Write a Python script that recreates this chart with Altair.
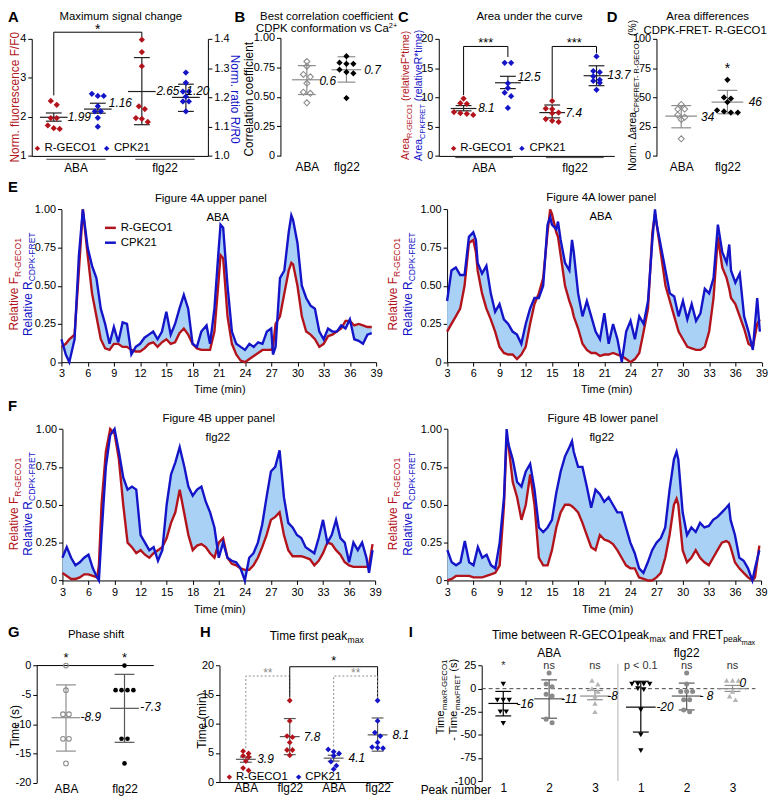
import altair as alt
import pandas as pd

# ======================= values =======================
# A  Maximum signal change (R-GECO1 -> F/F0 left axis, CPK21 -> R/R0 right axis)
A_R_ABA = [2.41, 2.31, 1.97, 1.97, 1.78, 1.71, 1.69]
A_B_ABA = [1.212, 1.205, 1.205, 1.17, 1.152, 1.152, 1.13, 1.10]
A_R_FLG = [3.98, 3.66, 3.30, 2.27, 2.20, 1.97, 1.95, 1.87]
A_B_FLG = [1.285, 1.25, 1.22, 1.22, 1.203, 1.186, 1.186, 1.152]
A_MEAN = [1.99, 1.16, 2.65, 1.20]
A_LO = [1.89, 1.146, 1.80, 1.152]
A_HI = [2.10, 1.18, 3.52, 1.245]
A_LBL = ["1.99", "1.16", "2.65", "1.20"]
A_LBL_X = [1.32, 2.25, 3.33, 4.01]
A_LBL_Y = [1.99, 1.18, 2.65, 1.22]
A_BRACKET = [(1, 2.55), (1, 4.17), (3, 4.17), (3, 4.05)]

# B  Best correlation coefficient
B_ABA = [0.80, 0.76, 0.69, 0.67, 0.615, 0.54, 0.53, 0.45]
B_FLG = [0.845, 0.79, 0.78, 0.78, 0.73, 0.71, 0.70, 0.49]
B_MEAN = [0.645, 0.73]
B_LO = [0.52, 0.625]
B_HI = [0.765, 0.84]
B_LBL = ["0.6", "0.7"]
B_LBL_X = [1.32, 2.45]
B_LBL_Y = [0.635, 0.73]

# C  Area under the curve
C_R_ABA = [9.8, 9.0, 8.9, 7.5, 7.3, 7.2, 7.0]
C_B_ABA = [15.9, 15.9, 12.4, 11.6, 10.8, 10.2, 8.2]
C_R_FLG = [9.4, 8.1, 8.0, 7.4, 7.3, 6.3, 6.0, 5.8]
C_B_FLG = [17.0, 14.5, 14.3, 13.6, 13.0, 12.8, 12.5, 11.3]
C_MEAN = [8.1, 12.5, 7.4, 13.7]
C_LO = [7.7, 11.5, 6.5, 12.0]
C_HI = [8.6, 13.6, 8.7, 15.4]
C_LBL = ["8.1", "12.5", "7.4", "13.7"]
C_LBL_X = [1.33, 2.22, 3.30, 4.25]
C_LBL_Y = [8.1, 13.4, 7.4, 13.8]
C_BRACKETS = [[(1, 10.4), (1, 18.7), (2, 18.7), (2, 16.9)],
              [(3, 9.9), (3, 18.7), (4, 18.7), (4, 17.6)]]

# D  Area differences
D_ABA = [44, 40, 40, 35, 33, 31, 14.6]
D_FLG = [65, 50, 49, 46, 39, 38, 37, 37]
D_MEAN = [34, 46]
D_LO = [24, 36]
D_HI = [43, 56]
D_LBL = ["34", "46"]
D_LBL_X = [1.43, 2.46]
D_LBL_Y = [33, 46]

# E / F  normalised traces (time in min)
T_TICKS = [3, 6, 9, 12, 15, 18, 21, 24, 27, 30, 33, 36, 39]
EL_T = [3, 3.5, 3.9, 4.5, 5, 5.45, 6, 6.5, 7, 7.5, 8, 8.5, 9, 9.5, 10, 10.5, 11, 11.5, 12, 12.5, 13, 13.5, 14, 14.5, 15,
        15.5, 16, 16.5, 17, 17.5, 18, 18.5, 19, 19.6, 20, 20.5, 21, 21.2, 21.5, 22, 22.5, 23, 23.5, 24, 24.5, 25, 25.5,
        26, 26.5, 27, 27.2, 27.5, 28, 28.5, 29, 29.3, 29.5, 30, 30.5, 31, 31.5, 32, 32.5, 33, 33.5, 34, 34.5, 35, 35.5,
        36, 36.5, 37, 37.5, 38, 38.5]
EL_R = [.10, .12, .15, .18, .60, 1.0, .70, .45, .30, .15, .09, .08, .12, .12, .10, .10, .08, .07, .07, .09, .12, .13,
        .10, .13, .15, .12, .13, .19, .22, .18, .12, .09, .08, .08, .08, .20, .55, .70, .68, .30, .12, .05, .01, .00,
        .02, .04, .06, .08, .08, .08, .10, .25, .30, .45, .60, .65, .64, .50, .30, .20, .18, .15, .10, .12, .17, .18,
        .20, .22, .27, .27, .24, .25, .24, .23, .23]
EL_B = [.15, .05, .00, .15, .70, 1.0, .75, .63, .55, .35, .25, .12, .23, .13, .26, .25, .05, .10, .12, .16, .18, .20,
        .15, .20, .33, .18, .25, .35, .44, .35, .12, .10, .20, .24, .12, .35, .75, .90, .88, .50, .20, .12, .10, .08,
        .12, .10, .13, .12, .20, .22, .05, .10, .55, .60, .85, .96, .93, .78, .50, .42, .37, .35, .20, .15, .22, .20,
        .20, .24, .22, .28, .15, .14, .12, .18, .19]
ER_T = [3, 3.5, 4, 4.5, 5, 5.5, 6, 6.3, 6.5, 7, 7.5, 8, 8.5, 9, 9.5, 10, 10.5, 11, 11.5, 12, 12.5, 13, 13.5, 14, 14.5,
        14.8, 15, 15.5, 15.7, 16, 16.5, 17, 17.3, 17.5, 18, 18.5, 19, 19.5, 20, 20.5, 21, 21.5, 22, 22.5, 23, 23.5, 24,
        24.5, 25, 25.5, 26, 26.5, 26.8, 27, 27.5, 28, 28.5, 29, 29.5, 30, 30.5, 31, 31.5, 32, 32.5, 33, 33.5, 34, 34.5,
        35, 35.3, 35.5, 36, 36.5, 37, 37.5, 38, 38.5, 38.8]
ER_R = [.20, .25, .30, .35, .50, .78, .80, .72, .60, .45, .35, .28, .20, .10, .06, .05, .05, .02, .05, .10, .25, .38,
        .45, .55, .85, 1.0, .97, .85, .82, .70, .50, .40, .35, .30, .22, .12, .08, .06, .06, .04, .05, .05, .06, .05,
        .04, .02, .00, .02, .06, .20, .35, .85, .97, .90, .70, .50, .40, .30, .20, .15, .10, .09, .08, .08, .10, .20,
        .42, .82, .62, .55, .48, .42, .38, .30, .22, .12, .10, .25, .28]
ER_B = [.40, .60, .62, .57, .57, .82, .85, .80, .65, .58, .63, .45, .33, .38, .28, .25, .20, .18, .12, .25, .35, .42,
        .42, .50, .90, .95, .90, .87, .92, .80, .65, .60, .80, .72, .45, .30, .40, .30, .20, .15, .32, .12, .25, .15,
        .00, .20, .27, .15, .30, .25, .40, .80, 1.0, .90, .75, .60, .45, .43, .30, .40, .28, .38, .27, .32, .48, .45,
        .55, .90, .72, .65, .77, .60, .52, .58, .30, .20, .08, .42, .20]
FL_T = [3, 3.5, 4, 4.5, 5, 5.5, 6, 6.5, 7, 7.2, 7.5, 8, 8.5, 9, 9.5, 10, 10.5, 11, 11.5, 12, 12.5, 13, 13.5, 14, 14.5,
        15, 15.5, 16, 16.5, 17, 17.5, 18, 18.5, 19, 19.5, 20, 20.5, 21, 21.5, 22, 22.5, 23, 23.5, 24, 24.5, 25, 25.5,
        26, 26.5, 27, 27.5, 28, 28.5, 29, 29.5, 30, 30.5, 31, 31.5, 32, 32.5, 33, 33.5, 34, 34.5, 35, 35.5, 36, 36.5,
        37, 37.5, 38, 38.3, 38.7]
FL_R = [.05, .03, .01, .01, .02, .04, .04, .03, .02, .10, .50, .85, 1.0, .97, .80, .50, .25, .22, .18, .20, .17, .15,
        .18, .20, .22, .28, .38, .45, .60, .45, .30, .20, .23, .24, .22, .18, .15, .25, .28, .15, .11, .10, .08, .07,
        .07, .10, .15, .22, .30, .40, .42, .45, .30, .20, .16, .16, .16, .15, .14, .10, .13, .18, .25, .24, .20, .17,
        .12, .10, .09, .09, .09, .09, .10, .24]
FL_B = [.15, .22, .15, .10, .12, .15, .17, .08, .02, .00, .30, .75, .96, 1.0, .85, .68, .60, .62, .60, .30, .25, .20,
        .22, .13, .20, .50, .70, .78, .88, .76, .62, .56, .60, .62, .52, .45, .35, .15, .25, .15, .13, .12, .08, .00,
        .15, .18, .25, .37, .55, .72, .75, .86, .55, .38, .35, .30, .28, .22, .20, .18, .28, .40, .25, .30, .40, .28,
        .25, .12, .25, .20, .25, .15, .05, .20]
FR_T = [3, 3.5, 4, 4.5, 5, 5.5, 6, 6.5, 7, 7.5, 8, 8.5, 9, 9.5, 9.8, 10, 10.5, 11, 11.5, 12, 12.5, 13, 13.5, 14, 14.5,
        15, 15.5, 16, 16.5, 17, 17.3, 17.5, 18, 18.5, 19, 19.5, 20, 20.5, 21, 21.5, 22, 22.5, 23, 23.5, 24, 24.5, 25,
        25.5, 26, 26.5, 27, 27.5, 28, 28.5, 29, 29.3, 29.5, 30, 30.5, 31, 31.5, 32, 32.5, 33, 33.5, 34, 34.5, 35, 35.3,
        35.5, 36, 36.5, 37, 37.5, 38, 38.3, 38.8]
FR_R = [.00, .01, .03, .03, .03, .03, .02, .02, .02, .03, .04, .05, .10, .50, .95, .90, .65, .55, .40, .50, .70, .50,
        .15, .10, .10, .20, .35, .45, .50, .50, .49, .48, .45, .38, .30, .22, .20, .30, .27, .26, .24, .20, .15, .10,
        .08, .08, .02, .01, .00, .00, .02, .05, .15, .30, .50, .54, .50, .20, .12, .15, .20, .15, .12, .10, .15, .20,
        .25, .26, .25, .22, .12, .08, .05, .02, .00, .02, .23]
FR_B = [.20, .12, .10, .12, .26, .12, .10, .22, .15, .17, .10, .08, .25, .55, 1.0, .90, .80, .65, .62, .72, .77, .60,
        .35, .32, .35, .40, .58, .72, .82, .88, .92, .85, .75, .75, .62, .48, .60, .57, .52, .55, .50, .45, .45, .35,
        .25, .18, .08, .05, .12, .20, .25, .28, .35, .60, .80, .85, .80, .45, .30, .35, .32, .38, .35, .36, .40, .42,
        .45, .48, .50, .40, .30, .15, .13, .08, .00, .08, .20]

# G  Phase shift (s)
G_ABA = [0, -4.2, -8.3, -8.3, -12.5, -12.5, -16.7]
G_FLG = [0, -4.2, -4.2, -4.2, -4.2, -12.5, -12.5, -16.7]
G_MEAN = [-8.9, -7.3]
G_LO = [-14.6, -13.1]
G_HI = [-3.3, -1.5]
G_LBL = ["-8.9", "-7.3"]
G_LBL_X = [1.25, 2.27]
G_LBL_Y = [-8.8, -7.1]

# H  Time first peak max (min)
H_R_ABA = [5.3, 4.9, 4.5, 4.3, 3.6, 2.4, 2.0]
H_R_FLG = [14.0, 10.5, 7.9, 7.7, 6.8, 5.5, 5.5, 4.6]
H_B_ABA = [5.6, 5.2, 4.9, 4.5, 3.5, 2.8, 2.2]
H_B_FLG = [14.0, 10.5, 8.5, 7.9, 6.8, 6.0, 5.9, 5.8]
H_MEAN = [3.9, 7.8, 4.1, 8.1]
H_LO = [3.4, 4.7, 3.6, 5.3]
H_HI = [4.3, 10.9, 4.6, 11.0]
H_LBL = ["3.9", "7.8", "4.1", "8.1"]
H_LBL_X = [1.26, 2.32, 3.34, 4.34]
H_CATS = ["ABA", "flg22", "ABA", "flg22"]
H_BRACKETS = [[(1, 5.8), (1, 18.2), (2, 18.2), (2, 14.9)],
              [(2, 14.5), (2, 19.8), (4, 19.8), (4, 14.4)],
              [(3, 6.1), (3, 18.2), (4, 18.2), (4, 14.4)]]

# I  Time between peaks (s)
I1_ABA = [5, -12.5, -12.5, -12.5, -25, -25, -37.5]
I2_ABA = [17, 5, 2, -6, -8, -33, -37]
I3_ABA = [9, 5, 0, -3, -8, -16, -25]
I1_FLG = [5, 5, 5, 5, 0, -1, -23, -50, -67]
I2_FLG = [17, 5, -3, -3, -3, -12, -12, -23, -25]
I3_FLG = [9, 9, 9, -3, -8, -12]
I_MEAN = [-16, -11, -8, -20, -8, 0]
I_LO = [-29.5, -32, -12, -47, -23, -3]
I_HI = [-3, 9.5, -2, 8, 6, 3.5]
I_LBL = ["-16", "-11", "-8", "-20", "- 8", "0"]
I_LBL_X = [1.29, 2.26, 3.27, 4.34, 5.28, 6.15]
I_LBL_Y = [-17, -11, -8, -20, -8, 6]
I_SIG = ["*", "ns", "ns", "p < 0.1", "ns", "ns"]
I_PEAK = ["1", "2", "3", "1", "2", "3"]
GROUPS = ["ABA", "flg22"]

for a, b, c in [(EL_T, EL_R, EL_B), (ER_T, ER_R, ER_B), (FL_T, FL_R, FL_B), (FR_T, FR_R, FR_B)]:
    assert len(a) == len(b) == len(c), (len(a), len(b), len(c))

# ======================= styling / layout =======================
W, H = 769, 794
OX, OY = 8, 8
FONT = "Liberation Sans"
RED = "#b3141c"
BLUE = "#1414c8"
FILL = "#a9d1f5"
DARK = "#222222"
GREY = "#8c8c8c"
LGREY = "#b4b4b4"
TICKFS = 11

AX = dict(grid=False, title=None, labelFont=FONT, labelFontSize=TICKFS, labelColor="black",
          domainColor="black", tickColor="black", domainWidth=1, tickWidth=1, tickSize=4,
          labelPadding=2, labelOverlap=False, labelFlush=False)


def yax(xref, values, expr=None, orient="left"):
    off = -(xref - OX) if orient == "left" else (xref - OX) - W
    kw = dict(AX, orient=orient, offset=off, values=values)
    if expr:
        kw["labelExpr"] = expr
    return alt.Axis(**kw)


def xax(yref, values=None, expr=None, labels=True, ticks=True, domain=True, pad=2, size=TICKFS):
    kw = dict(AX, orient="bottom", offset=(yref - OY) - H, labels=labels, ticks=ticks,
              domain=domain, labelPadding=pad, labelFontSize=size)
    if not ticks:
        kw["tickSize"] = 0
    if values is not None:
        kw["values"] = values
    if expr:
        kw["labelExpr"] = expr
    return alt.Axis(**kw)


def cat_expr(cats):
    e = "''"
    for i in range(len(cats), 0, -1):
        e = "datum.value == %d ? '%s' : (%s)" % (i, cats[i - 1], e)
    return e


Y01 = "datum.value == 0 ? '0' : format(datum.value, '.2f')"
NEG = "'' + datum.value"


class Panel:
    def __init__(self, xdom, xref, ydom, yref, xa, ya):
        self.xs = alt.Scale(domain=list(xdom), range=[xref[0] - OX, xref[1] - OX], nice=False, zero=False)
        self.ys = alt.Scale(domain=list(ydom), range=[yref[0] - OY, yref[1] - OY], nice=False, zero=False)
        self.xpu = (xref[1] - xref[0]) / (xdom[1] - xdom[0])
        self.ypu = abs(yref[1] - yref[0]) / (ydom[1] - ydom[0])
        self.xa, self.ya = xa, ya

    def X(self, f):
        return alt.X(f, type="quantitative", scale=self.xs, axis=self.xa)

    def Y(self, f):
        return alt.Y(f, type="quantitative", scale=self.ys, axis=self.ya)


def swarm(vals, tol, step):
    idx = sorted(range(len(vals)), key=lambda i: -vals[i])
    offs = [0.0] * len(vals)
    clusters, cur = [], [idx[0]]
    for i in idx[1:]:
        if abs(vals[i] - vals[cur[0]]) <= tol:
            cur.append(i)
        else:
            clusters.append(cur)
            cur = [i]
    clusters.append(cur)
    for c in clusters:
        n = len(c)
        for k, i in enumerate(c):
            offs[i] = (k - (n - 1) / 2.0) * step
    return offs


def dots(P, pos, vals, mean, lo, hi, color, shape="diamond", filled=True, size=40, bar=DARK,
         mhw=14, chw=8, step=6, tol=4.5, bw=1.2):
    offs = swarm(vals, tol / P.ypu, step / P.xpu)
    df = pd.DataFrame({"x": [pos + o for o in offs], "y": vals})
    pts = alt.Chart(df).mark_point(shape=shape, filled=filled, color=color, size=size, opacity=1,
                                   strokeWidth=1.1).encode(x=P.X("x"), y=P.Y("y"))
    mh, ch = mhw / P.xpu, chw / P.xpu
    seg = pd.DataFrame({"x": [pos - mh, pos - ch, pos - ch, pos], "x2": [pos + mh, pos + ch, pos + ch, pos],
                        "y": [mean, lo, hi, lo], "y2": [mean, lo, hi, hi]})
    rules = alt.Chart(seg).mark_rule(color=bar, strokeWidth=bw).encode(
        x=P.X("x"), x2="x2", y=P.Y("y"), y2="y2")
    return [rules, pts]


def dtext(P, xs, ys, txts, size=12, color="black", align="left", baseline="middle", style="italic"):
    df = pd.DataFrame({"x": xs, "y": ys, "t": txts})
    return alt.Chart(df).mark_text(font=FONT, fontSize=size, color=color, align=align, baseline=baseline,
                                   fontStyle=style).encode(x=P.X("x"), y=P.Y("y"), text="t:N")


def bracket(P, pts, color="black", dash=None, width=1):
    df = pd.DataFrame({"x": [p[0] for p in pts], "y": [p[1] for p in pts], "o": list(range(len(pts)))})
    kw = dict(color=color, strokeWidth=width)
    if dash:
        kw["strokeDash"] = dash
    return alt.Chart(df).mark_line(**kw).encode(x=P.X("x"), y=P.Y("y"), order="o:Q")


def hline(P, x0, x1, y, color="black", dash=None, width=1):
    df = pd.DataFrame({"x": [x0], "x2": [x1], "y": [y]})
    kw = dict(color=color, strokeWidth=width)
    if dash:
        kw["strokeDash"] = dash
    return alt.Chart(df).mark_rule(**kw).encode(x=P.X("x"), x2="x2", y=P.Y("y"))


# ---------- pixel-positioned annotation helpers ----------
AW = {' ': 278, '(': 333, ')': 333, '*': 389, '+': 584, '-': 333, '.': 278, '/': 278, '%': 889, '<': 584,
      'A': 667, 'B': 667, 'C': 722, 'D': 722, 'E': 667, 'F': 611, 'G': 778, 'H': 722, 'I': 278, 'K': 667,
      'L': 556, 'M': 833, 'N': 722, 'O': 778, 'P': 667, 'R': 722, 'S': 667, 'T': 611,
      'a': 556, 'b': 556, 'c': 500, 'd': 556, 'e': 556, 'f': 278, 'g': 556, 'h': 556, 'i': 222, 'k': 500,
      'l': 222, 'm': 833, 'n': 556, 'o': 556, 'p': 556, 'r': 333, 's': 500, 't': 278, 'u': 556, 'v': 500,
      'w': 722, 'x': 500, 'y': 500, 'Δ': 612}


def tw(s, fs):
    return sum(AW.get(ch, 556) for ch in s) * fs / 1000.0


def T(x, y, text, fs=11.5, c="black", a=0):
    return dict(x=x, y=y, text=text, fs=fs, c=c, a=a)


def rich(segs, cx, cy, fs, color, angle=0):
    sizes = {0: fs, 1: fs * 0.72, 2: fs * 0.6, -1: fs * 0.65}
    shifts = {0: 0, 1: fs * 0.28, 2: fs * 0.5, -1: -fs * 0.4}
    total = sum(tw(t, sizes[l]) for t, l in segs)
    cum = -total / 2.0
    rows = []
    for t, l in segs:
        s = sizes[l]
        lead = len(t) - len(t.lstrip(" "))
        cum += tw(" " * lead, s)
        body = t.strip(" ")
        if angle == 0:
            x, y = cx + cum, cy + 0.35 * fs + shifts[l]
        else:
            x, y = cx + 0.35 * fs + shifts[l], cy - cum
        rows.append(T(x, y, body, s, color, angle))
        cum += tw(t.lstrip(" "), s)
    return rows


def texts(rows, align="center", baseline="middle", weight="normal", style="normal"):
    df = pd.DataFrame(rows)
    df["x"] = df["x"] - OX
    df["y"] = df["y"] - OY
    return alt.Chart(df).mark_text(font=FONT, align=align, baseline=baseline, fontWeight=weight,
                                   fontStyle=style).encode(
        x=alt.X("x:Q", scale=None, axis=None), y=alt.Y("y:Q", scale=None, axis=None), text="text:N",
        size=alt.Size("fs:Q", scale=None), color=alt.Color("c:N", scale=None),
        angle=alt.Angle("a:Q", scale=None))


def prules(rows, width=1.0):
    df = pd.DataFrame(rows, columns=["x", "x2", "y", "c"])
    df["x"] -= OX
    df["x2"] -= OX
    df["y"] -= OY
    return alt.Chart(df).mark_rule(strokeWidth=width).encode(
        x=alt.X("x:Q", scale=None, axis=None), x2="x2", y=alt.Y("y:Q", scale=None, axis=None),
        color=alt.Color("c:N", scale=None))


def ppoints(rows, shape="diamond", size=40):
    df = pd.DataFrame(rows, columns=["x", "y", "c"])
    df["x"] -= OX
    df["y"] -= OY
    return alt.Chart(df).mark_point(shape=shape, filled=True, size=size, opacity=1).encode(
        x=alt.X("x:Q", scale=None, axis=None), y=alt.Y("y:Q", scale=None, axis=None),
        color=alt.Color("c:N", scale=None))


# ======================= panels =======================
layers = []

# ---- A ----
xa_A = xax(153.3, labels=False, ticks=False)
PAr = Panel((0.5, 4.5), (32, 210), (1, 4), (153.3, 35), xa_A, yax(32, [1, 2, 3, 4]))
PAb = Panel((0.5, 4.5), (32, 210), (1.0, 1.4), (153.3, 35), xa_A,
            yax(210, [1.0, 1.1, 1.2, 1.3, 1.4], expr="format(datum.value, '.1f')", orient="right"))
red = []
for pos, vals, k in [(1, A_R_ABA, 0), (3, A_R_FLG, 2)]:
    red += dots(PAr, pos, vals, A_MEAN[k], A_LO[k], A_HI[k], RED)
red.append(bracket(PAr, A_BRACKET))
red.append(dtext(PAr, [2], [4.22], ["*"], size=14, align="center", style="normal"))
red.append(dtext(PAr, [A_LBL_X[0], A_LBL_X[2]], [A_LBL_Y[0], A_LBL_Y[2]], [A_LBL[0], A_LBL[2]]))
blue = []
for pos, vals, k in [(2, A_B_ABA, 1), (4, A_B_FLG, 3)]:
    blue += dots(PAb, pos, vals, A_MEAN[k], A_LO[k], A_HI[k], BLUE)
blue.append(dtext(PAb, [A_LBL_X[1], A_LBL_X[3]], [A_LBL_Y[1], A_LBL_Y[3]], [A_LBL[1], A_LBL[3]]))
layers.append(alt.layer(alt.layer(*red), alt.layer(*blue)).resolve_scale(y="independent"))

# ---- B ----
PB = Panel((1, 2), (310, 350), (0, 1), (153.3, 34),
           xax(153.3, [1, 2], cat_expr(GROUPS), ticks=False, domain=False, pad=6, size=12),
           yax(283.3, [0, 0.25, 0.5, 0.75, 1.0], expr=Y01))
lb = []
lb += dots(PB, 1, B_ABA, B_MEAN[0], B_LO[0], B_HI[0], GREY, filled=False, size=36, bar=GREY, mhw=15, chw=9, step=7)
lb += dots(PB, 2, B_FLG, B_MEAN[1], B_LO[1], B_HI[1], "black", size=40, bar=GREY, mhw=15, chw=9, step=7)
lb.append(dtext(PB, B_LBL_X, B_LBL_Y, B_LBL))
layers.append(alt.layer(*lb))

# ---- C ----
PC = Panel((0.44, 4.4), (443.3, 620.6), (0, 20), (153.3, 35), xax(153.3, labels=False, ticks=False),
           yax(443.3, [0, 5, 10, 15, 20]))
lc = []
for pos, vals, k, col in [(1, C_R_ABA, 0, RED), (2, C_B_ABA, 1, BLUE), (3, C_R_FLG, 2, RED), (4, C_B_FLG, 3, BLUE)]:
    lc += dots(PC, pos, vals, C_MEAN[k], C_LO[k], C_HI[k], col, mhw=13, chw=8, step=6.5)
for br in C_BRACKETS:
    lc.append(bracket(PC, br))
lc.append(dtext(PC, [1.5, 3.5], [19.2, 19.2], ["***", "***"], size=13, align="center", style="normal"))
lc.append(dtext(PC, C_LBL_X, C_LBL_Y, C_LBL))
layers.append(alt.layer(*lc))

# ---- D ----
PD = Panel((1, 2), (688.3, 735), (0, 100), (153.3, 35),
           xax(153.3, [1, 2], cat_expr(GROUPS), ticks=False, domain=False, pad=6, size=12),
           yax(663.3, [0, 25, 50, 75, 100]))
ld = []
ld += dots(PD, 1, D_ABA, D_MEAN[0], D_LO[0], D_HI[0], GREY, filled=False, size=36, bar=GREY, mhw=16, chw=10, step=7)
ld += dots(PD, 2, D_FLG, D_MEAN[1], D_LO[1], D_HI[1], "black", size=40, bar=GREY, mhw=16, chw=10, step=7)
ld.append(dtext(PD, [2], [74], ["*"], size=14, align="center", style="normal"))
ld.append(dtext(PD, D_LBL_X, D_LBL_Y, D_LBL))
layers.append(alt.layer(*ld))


# ---- E / F traces ----
def trace(t, r, b, xref, yref):
    P = Panel((3, 39), xref, (0, 1), yref, xax(yref[0], T_TICKS), yax(xref[0], [0, 0.25, 0.5, 0.75, 1.0], Y01))
    df = pd.DataFrame({"t": t, "r": r, "b": b})
    area = alt.Chart(df).mark_area(color=FILL, opacity=1).encode(x=P.X("t"), y=P.Y("r"), y2="b")
    lr = alt.Chart(df).mark_line(color=RED, strokeWidth=2.4).encode(x=P.X("t"), y=P.Y("r"))
    lbl = alt.Chart(df).mark_line(color=BLUE, strokeWidth=2.4).encode(x=P.X("t"), y=P.Y("b"))
    return alt.layer(area, lr, lbl)


layers.append(trace(EL_T, EL_R, EL_B, (62, 380), (361.7, 207.3)))
layers.append(trace(ER_T, ER_R, ER_B, (451.7, 769.5), (361.7, 207.3)))
layers.append(trace(FL_T, FL_R, FL_B, (63, 379), (582.3, 429.3)))
layers.append(trace(FR_T, FR_R, FR_B, (452, 769), (582.3, 429.3)))

# ---- G ----
PG = Panel((0.5, 2.5), (37, 155.3), (-20, 0), (786.7, 668.3),
           xax(786.7, [1, 2], cat_expr(GROUPS), ticks=False, domain=False, pad=1, size=12),
           yax(37, [0, -5, -10, -15, -20], expr=NEG))
lg = [hline(PG, 0.5, 2.5, 0)]
lg += dots(PG, 1, G_ABA, G_MEAN[0], G_LO[0], G_HI[0], GREY, shape="circle", filled=False, size=22, bar=GREY,
           mhw=14.5, chw=10, step=6)
lg += dots(PG, 2, G_FLG, G_MEAN[1], G_LO[1], G_HI[1], "black", shape="circle", size=22, bar="#555555",
           mhw=14.5, chw=10, step=6)
lg.append(dtext(PG, [1, 2], [1.3, 1.3], ["*", "*"], size=13, align="center", style="normal"))
lg.append(dtext(PG, G_LBL_X, G_LBL_Y, G_LBL))
layers.append(alt.layer(*lg))

# ---- H ----
PH = Panel((0.4, 4.35), (221.7, 397), (0, 20), (786, 668.3),
           xax(786, [1, 2, 3, 4], cat_expr(H_CATS), ticks=False, pad=1, size=12),
           yax(221.7, [0, 5, 10, 15, 20]))
lh = []
for pos, vals, col in [(1, H_R_ABA, RED), (2, H_R_FLG, RED), (3, H_B_ABA, BLUE), (4, H_B_FLG, BLUE)]:
    k = pos - 1
    lh += dots(PH, pos, vals, H_MEAN[k], H_LO[k], H_HI[k], col, size=34, bar="#555555", mhw=10, chw=6, step=5.5)
lh.append(bracket(PH, H_BRACKETS[0], color=GREY, dash=[2, 2]))
lh.append(bracket(PH, H_BRACKETS[1], color="black"))
lh.append(bracket(PH, H_BRACKETS[2], color=GREY, dash=[2, 2]))
lh.append(dtext(PH, [1.5, 3.5], [18.7, 18.7], ["**", "**"], size=12, color=GREY, align="center", style="normal"))
lh.append(dtext(PH, [3], [20.7], ["*"], size=13, align="center", style="normal"))
lh.append(dtext(PH, H_LBL_X, H_MEAN, H_LBL))
layers.append(alt.layer(*lh))

# ---- I ----
PI = Panel((0.53, 6.5), (486.7, 763.3), (-100, 25), (785, 668.3),
           xax(785, [1, 2, 3, 4, 5, 6], cat_expr(I_PEAK), ticks=False, domain=False, pad=2, size=12),
           yax(486.7, [25, 0, -25, -50, -75, -100], expr=NEG))
li = [hline(PI, 0.53, 6.5, 0, color="#444444", dash=[4, 3])]
df_div = pd.DataFrame({"x": [3.5], "y": [-100], "y2": [27]})
li.append(alt.Chart(df_div).mark_rule(color="#cfcfcf", strokeWidth=1.6).encode(x=PI.X("x"), y=PI.Y("y"), y2="y2"))
I_VALS = [I1_ABA, I2_ABA, I3_ABA, I1_FLG, I2_FLG, I3_FLG]
I_STYLE = [("triangle-down", "black", "black"), ("circle", "#8a8a8a", "#555555"), ("triangle-up", LGREY, GREY)]
for k, vals in enumerate(I_VALS):
    shp, col, bc = I_STYLE[k % 3]
    li += dots(PI, k + 1, vals, I_MEAN[k], I_LO[k], I_HI[k], col, shape=shp, size=30 if shp != "circle" else 26,
               bar=bc, mhw=15, chw=8, step=6)
li.append(dtext(PI, [1, 2, 3, 4, 5, 6], [24, 24, 24, 24, 24, 24], I_SIG, size=11, align="center", style="normal",
                color="#333333"))
li.append(dtext(PI, [2, 5], [38.5, 38.5], GROUPS, size=12, align="center", style="normal"))
li.append(dtext(PI, I_LBL_X, I_LBL_Y, I_LBL))
layers.append(alt.layer(*li))

# ======================= annotations =======================
letters = [T(8, 13, "A", 15), T(237, 13, "B", 15), T(402, 13, "C", 15), T(613, 13, "D", 15),
           T(8, 185, "E", 15), T(8, 406, "F", 15), T(8, 634, "G", 15), T(202, 634, "H", 15), T(413, 634, "I", 15)]
layers.append(texts(letters, align="left", weight="bold"))

plain = [T(122, 13, "Maximum signal change"), T(330, 12.5, "Best correlation coefficient"),
         T(535, 13, "Area under the curve"), T(715, 13, "Area differences"), T(712.5, 27, "CDPK-FRET- R-GECO1"),
         T(213, 197, "Figure 4A upper panel"), T(220, 216.5, "ABA"),
         T(607.5, 196, "Figure 4A lower panel"), T(607, 215, "ABA"),
         T(221, 419, "Figure 4B upper panel"), T(220, 438.5, "flg22"),
         T(609, 419, "Figure 4B lower panel"), T(608, 438.5, "flg22"),
         T(222, 390, "Time (min)", 11), T(613, 390, "Time (min)", 11),
         T(222, 611.7, "Time (min)", 11), T(614, 611.7, "Time (min)", 11),
         T(97, 637, "Phase shift"),
         T(76.7, 165.5, "ABA", 12), T(166.7, 165.5, "flg22", 12), T(489, 165.5, "ABA", 12), T(581, 165.5, "flg22", 12),
         T(15.5, 94, "Norm. fluorescence F/F0", 12, RED, 270), T(237.5, 96, "Norm. ratio R/R0", 12, BLUE, 90),
         T(252, 96, "Correlation coefficient", 12, "black", 270),
         T(15, 730, "Time (s)", 12, "black", 270), T(204, 724, "Time (min)", 12, "black", 270)]
layers.append(texts(plain))

left_txt = [T(45, 145.7, "R-GECO1", 11.5), T(115, 145.7, "CPK21", 11.5),
            T(465, 145.7, "R-GECO1", 11.5), T(535, 145.7, "CPK21", 11.5),
            T(238.3, 781, "R-GECO1", 11.5), T(308.3, 781, "CPK21", 11.5),
            T(122, 226, "R-GECO1", 11.5), T(122, 241, "CPK21", 11.5),
            T(425, 794, "Peak number", 12)]
layers.append(texts(left_txt, align="left"))

rrows = []
rrows += rich([("CDPK conformation vs Ca", 0), ("2+", -1)], 330, 24.5, 11.5, "black")
rrows += rich([("Time first peak", 0), ("max", 1)], 320, 638, 12, "black")
rrows += rich([("Time between R-GECO1peak", 0), ("max", 1), (" and FRET", 0), ("peak", 1), ("max", 2)],
              630, 637, 12, "black")
rrows += rich([("Area", 0), ("R-GECO1", 1), (" (relativeF*time)", 0)], 409.3, 92, 10.5, RED, 270)
rrows += rich([("Area", 0), ("CPKFRET", 1), (" (relativeR*time)", 0)], 422.7, 92, 10.5, BLUE, 270)
rrows += rich([("Norm. Δarea", 0), ("CPKFRET- R-GECO1", 1), (" (%)", 0)], 639.3, 92, 10.5, "black", 270)
for (xr, xb, cy) in [(14, 28, 283), (396.7, 411.7, 283), (14, 28, 505), (396.7, 411.7, 505)]:
    rrows += rich([("Relative F", 0), ("R-GECO1", 1)], xr, cy, 12, RED, 270)
    rrows += rich([("Relative R", 0), ("CDPK-FRET", 1)], xb, cy, 12, BLUE, 270)
rrows += rich([("Time", 0), ("maxR-GECO1", 1)], 445, 700, 11, "black", 270)
rrows += rich([("- Time", 0), ("maxFRET", 1), (" (s)", 0)], 457.7, 703, 11, "black", 270)
layers.append(texts(rrows, align="left", baseline="alphabetic"))

layers.append(ppoints([(37.7, 145.7, RED), (107.7, 145.7, BLUE), (458.3, 145.7, RED), (527.3, 145.7, BLUE),
                       (231.7, 781, RED), (301.7, 781, BLUE)], size=30))
layers.append(prules([(46.7, 106.7, 156.7, "#444444"), (136.7, 196.7, 156.7, "#444444"),
                      (460, 518.3, 155, "#444444"), (551.7, 610, 155, "#444444")], width=1))
layers.append(prules([(106, 117, 226, RED), (106, 117, 241, BLUE)], width=2.5))

chart = alt.layer(*layers).resolve_scale(x="independent", y="independent").properties(
    width=W, height=H, padding=0, autosize=alt.AutoSizeParams(type="none"), background="white"
).configure_view(stroke=None)

chart.save("out.html", embed_options={"renderer": "svg", "actions": False})
